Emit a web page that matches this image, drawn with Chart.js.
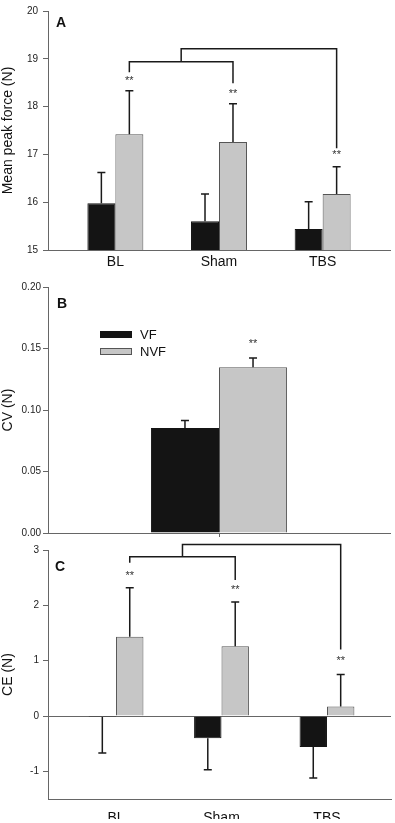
<!DOCTYPE html>
<html>
<head>
<meta charset="utf-8">
<script src="https://cdn.jsdelivr.net/npm/chart.js@4.4.1/dist/chart.umd.min.js"></script>
<style>
body{margin:0;background:#fff;font-family:Arial,"Liberation Sans",sans-serif;}
#wrap{position:relative;width:395px;height:823px;overflow:hidden;}
canvas{position:absolute;left:0;top:0;}
.panel{position:absolute;font-weight:bold;font-size:14px;line-height:14px;color:#111;}
#legendB{position:absolute;left:100px;top:326px;font-size:13px;color:#111;}
.item{display:flex;align-items:center;height:17px;}
.sw{display:inline-block;width:32px;height:7px;margin-right:8px;box-sizing:border-box;}
</style>
</head>
<body>
<div id="wrap">
<canvas id="chartA" width="395" height="823"></canvas>
<canvas id="chartB" width="395" height="823"></canvas>
<canvas id="chartC" width="395" height="823"></canvas>
<div class="panel" style="left:56px;top:15px">A</div>
<div class="panel" style="left:57px;top:296px">B</div>
<div class="panel" style="left:55px;top:559px">C</div>
<div id="legendB"></div>
</div>
<script>
var groups = ['BL', 'Sham', 'TBS'];
var seriesNames = ['VF', 'NVF'];

// A - mean peak force (N)
var forceVF = [15.98, 15.60, 15.44];
var forceVFErr = [0.64, 0.57, 0.57];
var forceNVF = [17.42, 17.26, 16.17];
var forceNVFErr = [0.91, 0.80, 0.57];
var forceStars = [18.60, 18.33, 17.05];
var forceBracket = {low: 18.94, high: 19.21, legs: [18.72, 18.49, 17.13]};

// B - CV (N)
var cvVF = [0.0854];
var cvVFErr = [0.006];
var cvNVF = [0.1347];
var cvNVFErr = [0.0076];
var cvStars = [0.156];

// C - CE (N)
var ceVF = [-0.02, -0.40, -0.56];
var ceVFErr = [0.65, 0.57, 0.56];
var ceNVF = [1.43, 1.26, 0.17];
var ceNVFErr = [0.89, 0.80, 0.58];
var ceStars = [2.59, 2.33, 1.05];
var ceBracket = {low: 2.88, high: 3.10, legs: [2.77, 2.46, 1.20]};
var ceTicks = [-1, 0, 1, 2, 3];

Chart.defaults.font.family = 'Arial, "Liberation Sans", sans-serif';

function toPts(vals) {
  return vals.map(function(v, i) { return {x: i + 1, y: v}; });
}

// error bars, asterisks and brackets
var extras = {
  id: 'extras',
  afterDatasetsDraw: function(chart, args, opts) {
    var ctx = chart.ctx, ys = chart.scales.y;
    ctx.save();
    ctx.strokeStyle = '#1a1a1a';
    ctx.lineWidth = 1.5;
    (opts.errors || []).forEach(function(errs, di) {
      var meta = chart.getDatasetMeta(di);
      meta.data.forEach(function(bar, i) {
        var v = chart.data.datasets[di].data[i];
        if (typeof v === 'object') v = v.y;
        var end = v < 0 ? v - errs[i] : v + errs[i];
        var py = ys.getPixelForValue(end);
        ctx.beginPath();
        ctx.moveTo(bar.x, bar.y); ctx.lineTo(bar.x, py);
        ctx.moveTo(bar.x - 4, py); ctx.lineTo(bar.x + 4, py);
        ctx.stroke();
      });
    });
    var nvf = chart.getDatasetMeta(1).data;
    var b = opts.bracket;
    if (b) {
      var xs = nvf.map(function(e) { return e.x; });
      var mid = (xs[0] + xs[1]) / 2;
      ctx.beginPath();
      ctx.moveTo(xs[0], ys.getPixelForValue(b.legs[0]));
      ctx.lineTo(xs[0], ys.getPixelForValue(b.low));
      ctx.lineTo(xs[1], ys.getPixelForValue(b.low));
      ctx.lineTo(xs[1], ys.getPixelForValue(b.legs[1]));
      ctx.moveTo(mid, ys.getPixelForValue(b.low));
      ctx.lineTo(mid, ys.getPixelForValue(b.high));
      ctx.lineTo(xs[2], ys.getPixelForValue(b.high));
      ctx.lineTo(xs[2], ys.getPixelForValue(b.legs[2]));
      ctx.stroke();
    }
    ctx.fillStyle = '#333';
    ctx.font = '11px Arial, "Liberation Sans", sans-serif';
    ctx.textAlign = 'center';
    ctx.textBaseline = 'alphabetic';
    (opts.stars || []).forEach(function(s, i) {
      ctx.fillText('**', nvf[i].x, ys.getPixelForValue(s) + 6);
    });
    ctx.restore();
  }
};

function yAxis(o) {
  return {
    min: o.min, max: o.max,
    afterFit: function(s) { s.width = 48; },
    afterBuildTicks: o.ticks ? function(s) { s.ticks = o.ticks.map(function(v) { return {value: v}; }); } : undefined,
    ticks: {stepSize: o.step, padding: o.pad, color: '#222', font: {size: 10}, callback: o.fmt},
    grid: {drawOnChartArea: !!o.zero, tickLength: 5, tickColor: '#666',
      color: function(c) { return o.zero && c.tick && c.tick.value === 0 ? '#666' : 'rgba(0,0,0,0)'; }},
    border: {color: '#666', width: 1},
    title: {display: true, text: o.title, color: '#111', font: {size: 14}, padding: 0}
  };
}

function xGroups(min, max, pad) {
  return {
    type: 'linear', min: min, max: max, offset: false,
    afterBuildTicks: function(s) { s.ticks = groups.map(function(g, i) { return {value: i + 1}; }); },
    afterFit: function(s) { s.height = 20; },
    ticks: {autoSkip: false, maxRotation: 0, padding: pad, color: '#111', font: {size: 14},
      callback: function(v) { return groups[v - 1]; }},
    grid: {display: false, drawTicks: false},
    border: {color: '#666', width: 1}
  };
}

function panel(id, o) {
  return new Chart(document.getElementById(id), {
    type: 'bar',
    data: {
      labels: o.labels,
      datasets: [
        {label: seriesNames[0], data: o.vf, backgroundColor: '#141414', borderColor: '#141414', borderWidth: 1},
        {label: seriesNames[1], data: o.nvf, backgroundColor: '#c6c6c6', borderColor: '#555555', borderWidth: 1}
      ]
    },
    options: {
      responsive: false,
      animation: false,
      layout: {padding: o.pad},
      datasets: {bar: {categoryPercentage: o.catPct, barPercentage: 1}},
      plugins: {
        legend: {display: false},
        tooltip: {enabled: false},
        extras: {errors: o.errors, stars: o.stars, bracket: o.bracket}
      },
      scales: {x: o.x, y: o.y}
    },
    plugins: [extras]
  });
}

var chartA = panel('chartA', {
  vf: toPts(forceVF), nvf: toPts(forceNVF),
  errors: [forceVFErr, forceNVFErr], stars: forceStars, bracket: forceBracket,
  pad: {top: 4, left: 0, right: 5, bottom: 553},
  catPct: 0.54,
  x: xGroups(0.35, 3.65, 4),
  y: yAxis({min: 15, max: 20, step: 1, pad: 5, title: 'Mean peak force (N)'})
});

var chartB = panel('chartB', {
  labels: [''],
  vf: cvVF, nvf: cvNVF,
  errors: [cvVFErr, cvNVFErr], stars: cvStars,
  pad: {top: 287, left: 0, right: 5, bottom: 286},
  catPct: 0.398,
  x: {type: 'category', offset: true,
    afterFit: function(s) { s.height = 4; },
    ticks: {display: false},
    grid: {offset: false, drawOnChartArea: false, tickLength: 4, color: '#666'},
    border: {color: '#666', width: 1}},
  y: yAxis({min: 0, max: 0.2, step: 0.05, pad: 2, title: 'CV (N)',
    fmt: function(v) { return v.toFixed(2); }})
});

var chartC = panel('chartC', {
  vf: toPts(ceVF), nvf: toPts(ceNVF),
  errors: [ceVFErr, ceNVFErr], stars: ceStars, bracket: ceBracket,
  pad: {top: 550, left: 0, right: 4, bottom: 4},
  catPct: 0.52,
  x: xGroups(0.355, 3.607, 11),
  y: yAxis({min: -1.5, max: 3, ticks: ceTicks, pad: 4, zero: true, title: 'CE (N)'})
});

// legend for panel B
var legend = document.getElementById('legendB');
chartB.data.datasets.forEach(function(ds) {
  var row = document.createElement('div');
  row.className = 'item';
  var sw = document.createElement('span');
  sw.className = 'sw';
  sw.style.background = ds.backgroundColor;
  sw.style.border = '1px solid ' + ds.borderColor;
  var t = document.createElement('span');
  t.textContent = ds.label;
  row.appendChild(sw);
  row.appendChild(t);
  legend.appendChild(row);
});
</script>
</body>
</html>
